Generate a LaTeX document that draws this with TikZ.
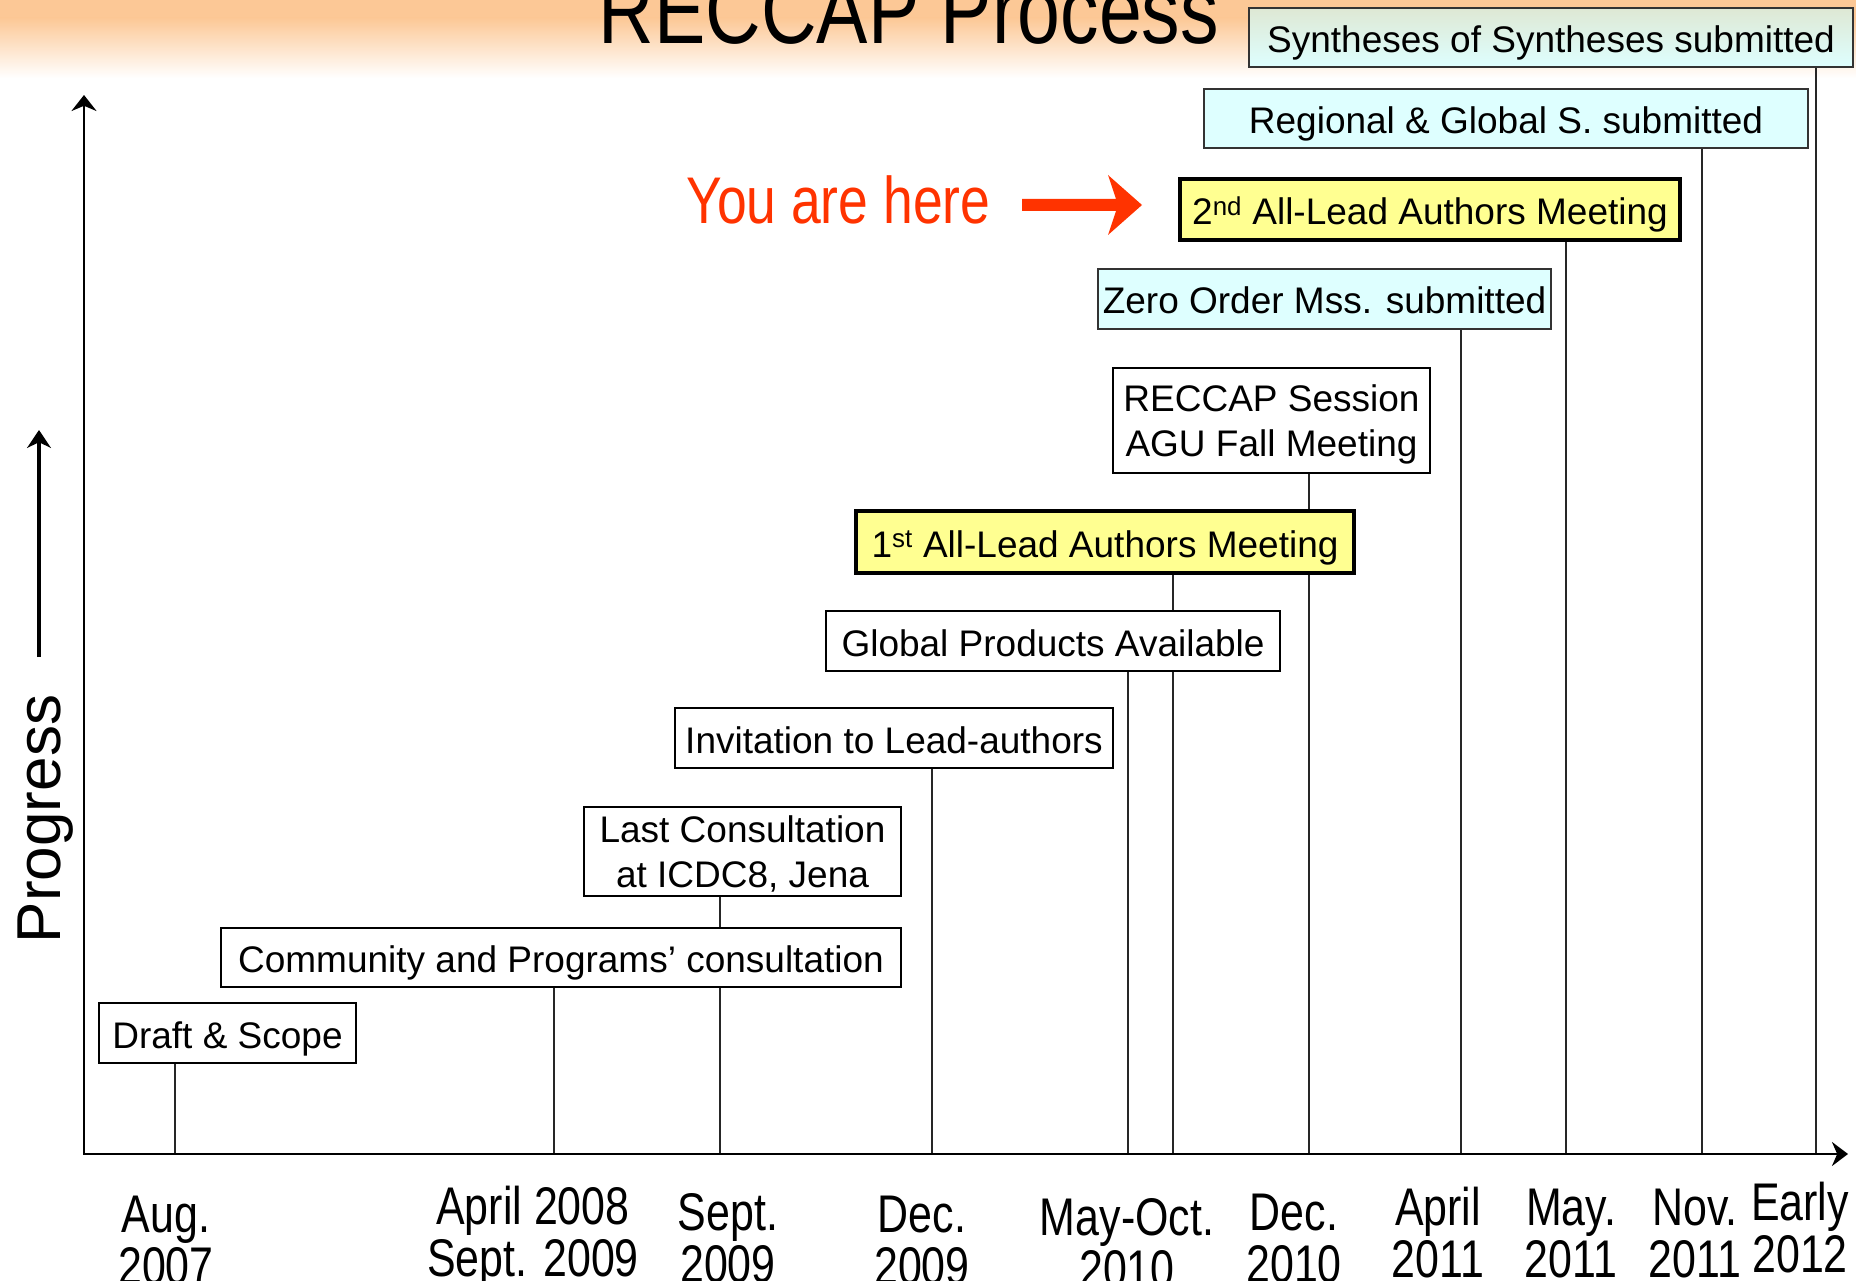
\documentclass[tikz,border=0pt]{standalone}
\usepackage{fontspec}
\setmainfont{Liberation Sans}
\newfontfamily\narrowfont[FakeStretch=0.81]{Liberation Sans}
\usetikzlibrary{arrows.meta,calc}
\pgfdeclarelayer{back}
\pgfdeclarelayer{lines}
\pgfsetlayers{back,lines,main}
\definecolor{peach}{RGB}{252,200,150}
\definecolor{boxyellow}{RGB}{255,255,145}
\definecolor{boxcyan}{RGB}{222,255,255}
\definecolor{synthtop}{RGB}{222,232,212}
\definecolor{hereRed}{RGB}{255,51,0}
\begin{document}
\begin{tikzpicture}[x=1pt,y=-1pt,
  box/.style={draw=black,line width=1.8pt,fill=white,inner sep=0pt,align=center,
    font=\fontsize{37}{45}\selectfont,text height=30pt,text depth=0pt},
  twobox/.style={box,text height=,text depth=0pt},
  ybox/.style={box,fill=boxyellow,line width=3.6pt},
  cbox/.style={box,fill=boxcyan,draw=black!80},
  conn/.style={line width=1.6pt,black!85},
  axisline/.style={line width=2.6pt,{Stealth[length=16pt,width=25pt]}-{Stealth[length=16pt,width=24pt]}},
  datelbl/.style={anchor=base,inner sep=0pt,font=\narrowfont\fontsize{53}{51}\selectfont}
]
\useasboundingbox (0,0) rectangle (1856,1281);
\begin{pgfonlayer}{back}
  \fill[white] (0,0) rectangle (1856,1281);
  \fill[peach] (0,0) rectangle (1856,18);
  \shade[top color=peach,bottom color=white] (0,18) rectangle (1856,78);
\end{pgfonlayer}

% title
\node[anchor=base,inner sep=0pt,font=\narrowfont\fontsize{95}{95}\selectfont] (title) at (909,44) {RECCAP Process};

% boxes
\node[box,minimum width=257pt,minimum height=60pt] (draft) at (227.5,1033) {Draft \& Scope};
\node[box,minimum width=680pt,minimum height=59pt] (comm) at (561,957.5) {Community and Programs’ consultation};
\node[twobox,minimum width=317pt,minimum height=89pt] (last) at (742.5,851.5) {Last Consultation\\at ICDC8, Jena};
\node[box,minimum width=438pt,minimum height=60pt] (invit) at (894,738) {Invitation to Lead-authors};
\node[box,minimum width=454pt,minimum height=60pt] (glob) at (1053,641) {Global Products Available};
\node[ybox,minimum width=498pt,minimum height=62pt] (first) at (1105,542) {1\textsuperscript{st} All-Lead Authors Meeting};
\node[twobox,minimum width=317pt,minimum height=105pt] (agu) at (1271.5,420.5) {RECCAP Session\\AGU Fall Meeting};
\node[cbox,minimum width=453pt,minimum height=60pt] (zero) at (1324.5,299) {Zero Order Mss. submitted};
\node[ybox,minimum width=500pt,minimum height=61pt] (second) at (1430,209.5) {2\textsuperscript{nd} All-Lead Authors Meeting};
\node[cbox,minimum width=604pt,minimum height=59pt] (regional) at (1506,118.5) {Regional \& Global S. submitted};
\node[cbox,top color=synthtop,bottom color=boxcyan,minimum width=604pt,minimum height=59pt] (synth) at (1551,37.5) {Syntheses of Syntheses submitted};

% axes
\coordinate (origin) at (84,1154);
\coordinate (ytop) at (84,95);
\coordinate (xend) at (1848,1154);
\draw[axisline] (ytop) -- (origin) -- (xend);

% axis points of the connectors
\coordinate (t1) at (175,1154);
\coordinate (t2) at (554,1154);
\coordinate (t3) at (720,1154);
\coordinate (t4) at (932,1154);
\coordinate (t5) at (1128,1154);
\coordinate (t6) at (1173,1154);
\coordinate (t7) at (1309,1154);
\coordinate (t8) at (1461,1154);
\coordinate (t9) at (1566,1154);
\coordinate (t10) at (1702,1154);
\coordinate (t11) at (1816,1154);
\begin{pgfonlayer}{lines}
  \draw[conn] (draft.south -| t1) -- (t1);
  \draw[conn] (comm.south -| t2) -- (t2);
  \draw[conn] (last.south -| t3) -- (t3);
  \draw[conn] (invit.south -| t4) -- (t4);
  \draw[conn] (glob.south -| t5) -- (t5);
  \draw[conn] (first.south -| t6) -- (t6);
  \draw[conn] (agu.south -| t7) -- (t7);
  \draw[conn] (zero.south -| t8) -- (t8);
  \draw[conn] (second.south -| t9) -- (t9);
  \draw[conn] (regional.south -| t10) -- (t10);
  \draw[conn] (synth.south -| t11) -- (t11);
\end{pgfonlayer}

% progress label
\node[anchor=base,inner sep=0pt,rotate=90,font=\fontsize{62}{62}\selectfont] (prog) at (60,819) {Progress};
\coordinate (pS) at (39,657);
\coordinate (pE) at (39,430);
\draw[line width=4pt,-{Stealth[length=18pt,width=24pt]}] (pS) -- (pE);

% you are here
\node[anchor=base west,inner sep=0pt,text=hereRed,font=\narrowfont\fontsize{66}{66}\selectfont] (here) at (686,224) {You are here};
\coordinate (hA) at (1022,205);
\coordinate (hB) at (1142,205);
\fill[hereRed] ($(hA)+(0,-6)$) -- ($(hB)+(-26,-6)$) -- ($(hB)+(-34,-30)$) -- (hB)
  -- ($(hB)+(-34,30)$) -- ($(hB)+(-26,6)$) -- ($(hA)+(0,6)$) -- cycle;

% dates
\node[datelbl] (d1) at (166,1232) {\begin{tabular}[t]{@{}c@{}}Aug.\\2007\end{tabular}};
\node[datelbl] (d2) at (533,1224) {\begin{tabular}[t]{@{}c@{}}April 2008\\Sept. 2009\end{tabular}};
\node[datelbl] (d3) at (728,1230) {\begin{tabular}[t]{@{}c@{}}Sept.\\2009\end{tabular}};
\node[datelbl] (d4) at (922,1232) {\begin{tabular}[t]{@{}c@{}}Dec.\\2009\end{tabular}};
\node[datelbl] (d5) at (1127,1235) {\begin{tabular}[t]{@{}c@{}}May-Oct.\\2010\end{tabular}};
\node[datelbl] (d6) at (1294,1230) {\begin{tabular}[t]{@{}c@{}}Dec.\\2010\end{tabular}};
\node[datelbl] (d7) at (1438,1225) {\begin{tabular}[t]{@{}c@{}}April\\2011\end{tabular}};
\node[datelbl] (d8) at (1571,1225) {\begin{tabular}[t]{@{}c@{}}May.\\2011\end{tabular}};
\node[datelbl] (d9) at (1695,1225) {\begin{tabular}[t]{@{}c@{}}Nov.\\2011\end{tabular}};
\node[datelbl] (d10) at (1800,1220) {\begin{tabular}[t]{@{}c@{}}Early\\2012\end{tabular}};
\end{tikzpicture}
\end{document}
